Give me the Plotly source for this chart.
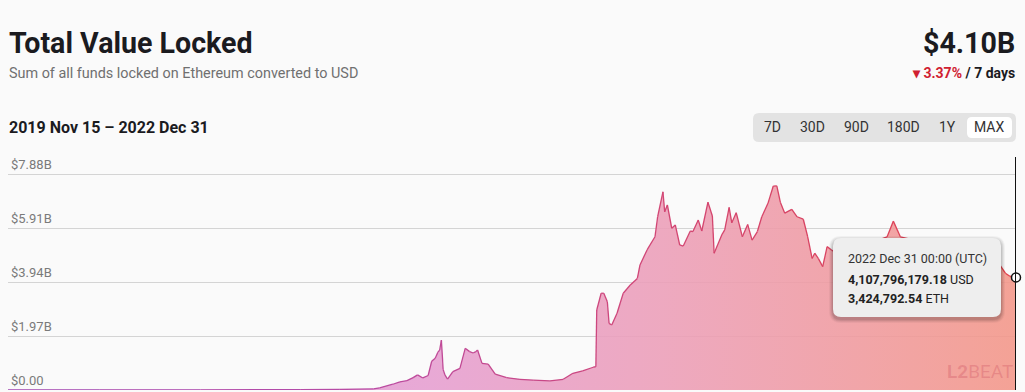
import plotly.graph_objects as go
import pandas as pd

# ---------------- data ----------------
dates = [
    "2019-11-15", "2020-02-27", "2020-06-20", "2020-10-11", "2020-11-25",
    "2021-01-02", "2021-01-09", "2021-01-24", "2021-02-01", "2021-02-09",
    "2021-02-16", "2021-02-21", "2021-02-27", "2021-03-05", "2021-03-09",
    "2021-03-13", "2021-03-16", "2021-03-18", "2021-03-20", "2021-03-22",
    "2021-03-24", "2021-03-27", "2021-04-02", "2021-04-10", "2021-04-16",
    "2021-04-21", "2021-04-25", "2021-04-28", "2021-04-30", "2021-05-05",
    "2021-05-12", "2021-05-20", "2021-06-02", "2021-06-17", "2021-07-02",
    "2021-07-21", "2021-08-05", "2021-08-16", "2021-08-27", "2021-09-08",
    "2021-09-11", "2021-09-12", "2021-09-17", "2021-09-20", "2021-09-24",
    "2021-09-26", "2021-09-29", "2021-10-05", "2021-10-12", "2021-10-20",
    "2021-10-28", "2021-10-31", "2021-11-08", "2021-11-17", "2021-11-20",
    "2021-11-26", "2021-11-28", "2021-12-01", "2021-12-06", "2021-12-10",
    "2021-12-15", "2021-12-19", "2021-12-27", "2021-12-30", "2022-01-05",
    "2022-01-09", "2022-01-16", "2022-01-21", "2022-01-23", "2022-02-01",
    "2022-02-04", "2022-02-09", "2022-02-12", "2022-02-17", "2022-02-24",
    "2022-03-02", "2022-03-07", "2022-03-13", "2022-03-18", "2022-03-25",
    "2022-03-31", "2022-04-04", "2022-04-08", "2022-04-13", "2022-04-21",
    "2022-04-27", "2022-05-04", "2022-05-09", "2022-05-14", "2022-05-17",
    "2022-05-21", "2022-05-26", "2022-05-31", "2022-06-05", "2022-06-15",
    "2022-06-26", "2022-07-07", "2022-07-19", "2022-07-30", "2022-08-07",
    "2022-08-14", "2022-08-22", "2022-09-02", "2022-09-13", "2022-09-30",
    "2022-10-17", "2022-11-03", "2022-11-20", "2022-12-13", "2022-12-19",
    "2022-12-24", "2022-12-31",
]
tvl_usd_b = [
    0.005, 0.005, 0.008, 0.012, 0.02,
    0.04, 0.08, 0.21, 0.30, 0.34,
    0.45, 0.55, 0.44, 0.53, 1.05,
    1.16, 1.38, 1.45, 1.82, 0.75,
    0.55, 0.40, 0.67, 0.79, 1.52,
    1.40, 1.35, 1.40, 1.46, 0.97,
    0.94, 0.58, 0.45, 0.39, 0.36,
    0.33, 0.39, 0.61, 0.70, 0.83,
    0.85, 2.92, 3.53, 3.53, 3.22,
    2.43, 2.37, 2.80, 3.53, 3.83,
    4.07, 4.56, 5.11, 5.59, 6.32,
    7.23, 6.50, 6.75, 5.90, 6.02,
    5.29, 5.25, 5.80, 5.78, 6.20,
    5.80, 6.85, 6.35, 4.99, 5.68,
    5.84, 6.66, 6.10, 6.47, 5.59,
    6.04, 5.47, 5.78, 6.32, 6.81,
    7.44, 7.45, 6.85, 6.45, 6.59,
    6.32, 6.23, 5.59, 4.80, 4.99,
    4.80, 4.50, 5.23, 5.11, 4.90,
    4.80, 5.00, 5.20, 5.50, 5.59,
    6.16, 5.59, 5.50, 5.45, 5.00,
    4.80, 4.60, 4.50, 4.55, 4.26,
    4.15, 4.108,
]
ytick_vals = [0, 1.97, 3.94, 5.91, 7.88]
ytick_text = ["$0.00", "$1.97B", "$3.94B", "$5.91B", "$7.88B"]
range_buttons = ["7D", "30D", "90D", "180D", "1Y", "MAX"]
title_text = "Total Value Locked"
subtitle_text = "Sum of all funds locked on Ethereum converted to USD"
period_text = "2019 Nov 15 \u2013 2022 Dec 31"
headline_value = "$4.10B"
change_pct = "3.37%"
tooltip_date = "2022 Dec 31 00:00 (UTC)"
tooltip_usd = "4,107,796,179.18"
tooltip_eth = "3,424,792.54"

# ---------------- layout helpers ----------------
W, H = 1025, 392
PX0, PX1 = 8, 1016      # plot area horizontal extent (px)
PY_TOP, PY_BOT = 157, 390  # plot area vertical extent (px)
FONT = "Roboto"


def fx(px):
    return (px - PX0) / (PX1 - PX0)


def fy(py):
    return (PY_BOT - py) / (PY_BOT - PY_TOP)


def rrect(x0, y0, x1, y1, r):
    pts = [
        ("M", [(x0 + r, y0)]),
        ("L", [(x1 - r, y0)]),
        ("Q", [(x1, y0), (x1, y0 + r)]),
        ("L", [(x1, y1 - r)]),
        ("Q", [(x1, y1), (x1 - r, y1)]),
        ("L", [(x0 + r, y1)]),
        ("Q", [(x0, y1), (x0, y1 - r)]),
        ("L", [(x0, y0 + r)]),
        ("Q", [(x0, y0), (x0 + r, y0)]),
    ]
    out = []
    for cmd, ps in pts:
        out.append(cmd + " " + " ".join(f"{fx(a):.5f},{fy(b):.5f}" for a, b in ps))
    return " ".join(out) + " Z"


def hex2rgb(h):
    h = h.lstrip("#")
    return tuple(int(h[i:i + 2], 16) for i in (0, 2, 4))


def interp(stops, t):
    for (t0, c0), (t1, c1) in zip(stops[:-1], stops[1:]):
        if t <= t1:
            u = 0 if t1 == t0 else max(0.0, (t - t0) / (t1 - t0))
            a, b = hex2rgb(c0), hex2rgb(c1)
            return "rgb(%d,%d,%d)" % tuple(round(a[i] + (b[i] - a[i]) * u) for i in range(3))
    return "rgb(%d,%d,%d)" % hex2rgb(stops[-1][1])


# ---------------- figure ----------------
d = pd.to_datetime(dates)
fig = go.Figure()

fig.add_trace(go.Scatter(
    x=d, y=tvl_usd_b, mode="lines", line=dict(width=0),
    fill="tozeroy",
    fillgradient=dict(type="horizontal", colorscale=[
        [0.0, "rgba(214,150,222,0.88)"],
        [0.42, "rgba(230,158,208,0.88)"],
        [0.65, "rgba(236,158,184,0.88)"],
        [1.0, "rgba(243,150,136,0.88)"],
    ]),
    hoverinfo="skip", showlegend=False,
))

line_stops = [(0.0, "#a24cb4"), (0.35, "#b94ba4"), (0.65, "#d24674"), (1.0, "#e2404a")]
t0, t1 = d[0], d[-1]
for i in range(len(d) - 1):
    tm = ((d[i] - t0) + (d[i + 1] - d[i]) / 2) / (t1 - t0)
    fig.add_trace(go.Scatter(
        x=d[i:i + 2], y=tvl_usd_b[i:i + 2], mode="lines",
        line=dict(width=1.3, color=interp(line_stops, tm)),
        hoverinfo="skip", showlegend=False,
    ))

# hover cursor line + marker on last point
fig.add_shape(type="line", xref="x", yref="paper", x0=d[-1], x1=d[-1], y0=0, y1=1,
              line=dict(color="#111111", width=2), layer="above")
fig.add_trace(go.Scatter(
    x=[d[-1]], y=[tvl_usd_b[-1]], mode="markers",
    marker=dict(size=9, color="white", line=dict(color="#111111", width=1.5)),
    hoverinfo="skip", showlegend=False, cliponaxis=False,
))

shapes = []
# range buttons
shapes.append(dict(type="path", xref="paper", yref="paper", path=rrect(753, 113, 1016, 142, 6),
                   fillcolor="#e3e3e3", line=dict(width=0), layer="above"))
shapes.append(dict(type="path", xref="paper", yref="paper", path=rrect(967, 117, 1012, 138, 5),
                   fillcolor="#ffffff", line=dict(width=0), layer="above"))
# tooltip shadow + box
for k, a in [(4, 0.04), (3, 0.05), (2, 0.07), (1, 0.08)]:
    shapes.append(dict(type="path", xref="paper", yref="paper",
                       path=rrect(833 - k, 238 - k + 2, 1001 + k, 317 + k + 2, 8 + k),
                       fillcolor=f"rgba(0,0,0,{a})", line=dict(width=0), layer="above"))
shapes.append(dict(type="path", xref="paper", yref="paper", path=rrect(833, 238, 1001, 317, 8),
                   fillcolor="#eeeeee", line=dict(width=0), layer="above"))
for s in shapes:
    fig.add_shape(**s)

ann = []


def A(text, px, py, size, color, xanchor="left", bold=False, **kw):
    ann.append(dict(text=f"<b>{text}</b>" if bold else text, x=fx(px), y=fy(py),
                    xref="paper", yref="paper", xanchor=xanchor, yanchor="middle",
                    showarrow=False, font=dict(family=FONT, size=size, color=color), **kw))


A(title_text, 7, 43, 28.6, "#1b1b1f", bold=True)
A(subtitle_text, 7, 73, 14.4, "#707070")
A(period_text, 7, 127, 16, "#1b1b1f", bold=True)
A(headline_value, 1017, 43, 28.6, "#1b1b1f", xanchor="right", bold=True)
A(f"<span style='color:#d02030'>\u25be {change_pct}</span> / 7 days", 1017, 73, 14, "#1b1b1f",
  xanchor="right", bold=True)
for lab, cx in zip(range_buttons, [772, 812, 856, 903, 947, 989]):
    A(lab, cx, 127, 14, "#333333", xanchor="center")
A(tooltip_date, 846, 258, 12.5, "#333333")
A(f"<b>{tooltip_usd}</b> USD", 846, 279, 12.5, "#222222")
A(f"<b>{tooltip_eth}</b> ETH", 846, 298, 12.5, "#222222")
A("<b>L2</b>BEAT", 980, 371, 19, "rgba(200,70,90,0.28)", xanchor="center")

fig.update_layout(
    width=W, height=H,
    margin=dict(l=PX0, r=W - PX1, t=PY_TOP, b=H - PY_BOT, pad=0),
    paper_bgcolor="#fafafa", plot_bgcolor="#fafafa",
    annotations=ann,
    showlegend=False,
    hovermode=False,
    xaxis=dict(range=[d[0], d[-1]], showgrid=False, showticklabels=False, zeroline=False,
               showline=False, ticks=""),
    yaxis=dict(range=[0, 8.5], tickvals=ytick_vals, ticktext=ytick_text,
               ticklabelposition="inside top", showgrid=True, gridcolor="#d4d4d4", gridwidth=1,
               zeroline=False, showline=False, ticks="",
               tickfont=dict(family=FONT, size=13, color="#7a7a7a")),
    font=dict(family=FONT),
)

fig.write_html("out.html")
